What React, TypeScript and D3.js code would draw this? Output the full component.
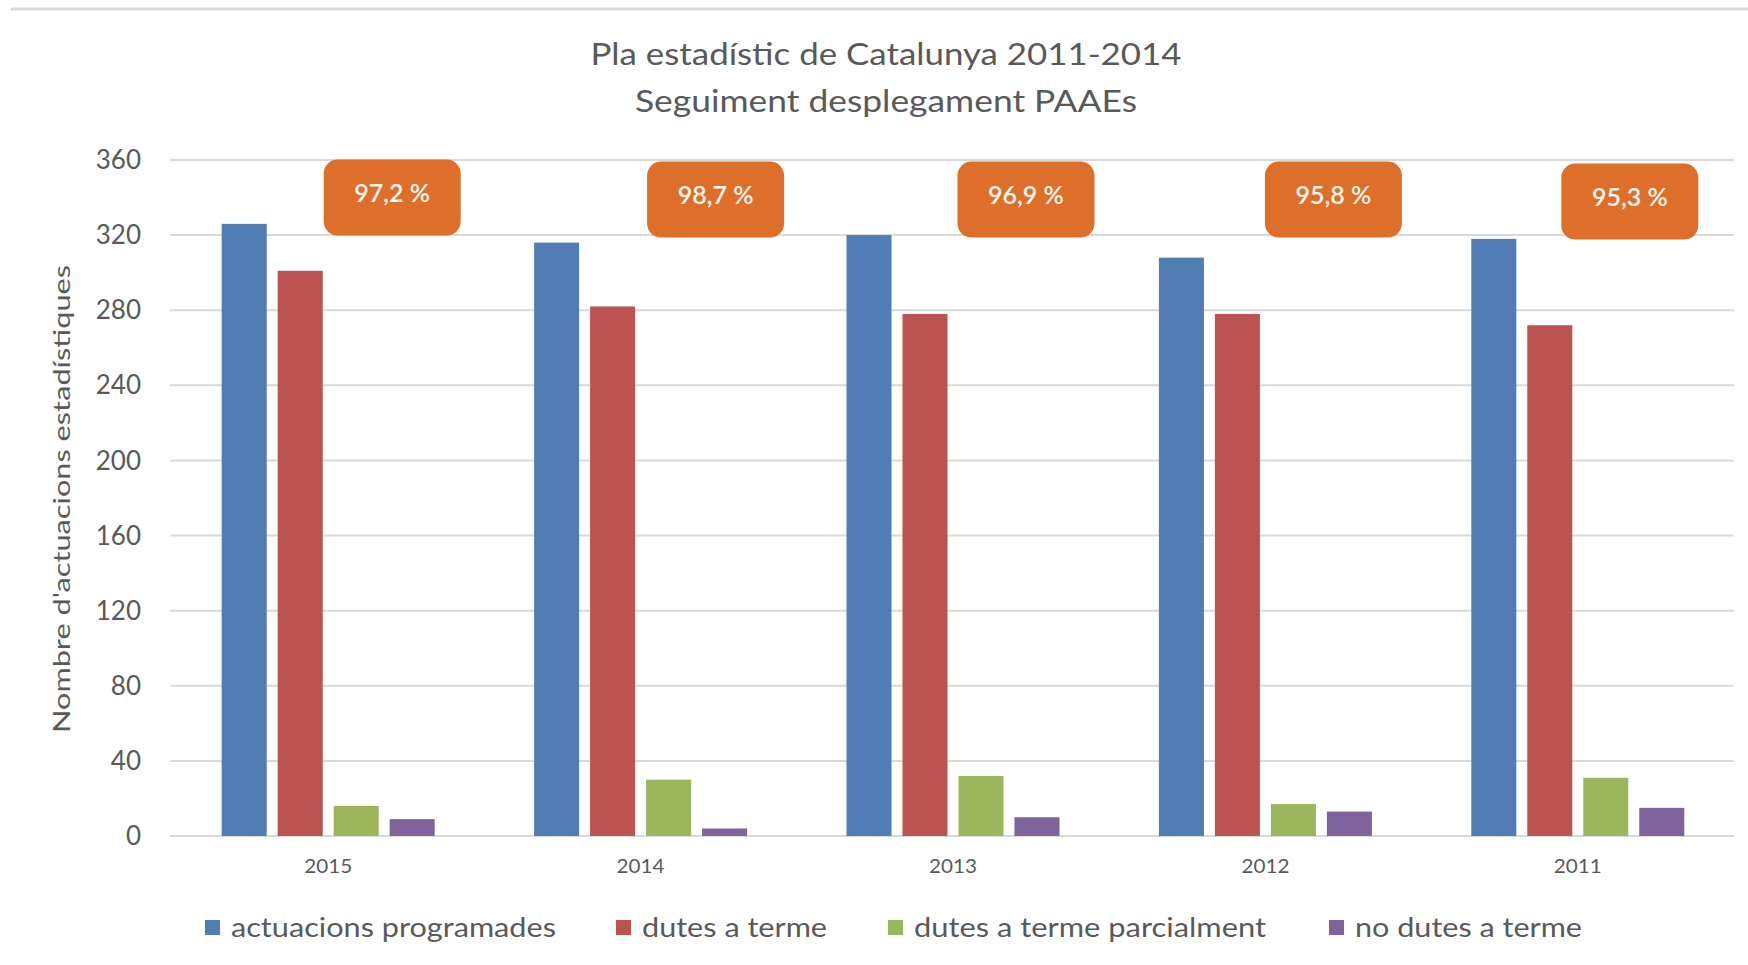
import * as d3 from 'd3'

const years = ['2015', '2014', '2013', '2012', '2011']
const seriesNames = [
  'actuacions programades',
  'dutes a terme',
  'dutes a terme parcialment',
  'no dutes a terme',
]
const programades = [326, 316, 320, 308, 318]
const dutes = [301, 282, 278, 278, 272]
const parcialment = [16, 30, 32, 17, 31]
const noDutes = [9, 4, 10, 13, 15]
const percentLabels = ['97,2 %', '98,7 %', '96,9 %', '95,8 %', '95,3 %']
const yTickValues = [0, 40, 80, 120, 160, 200, 240, 280, 320, 360]

const colors = ['#4f7db4', '#bb5350', '#9bb65a', '#7f649c']
const FONT = 'Lato, "Open Sans", sans-serif'

// décalage manuel des étiquettes (comme dans l'original)
const badgeShiftX = [64, 75, 73, 68, 52]
const badgeShiftY = [0, 2, 2, 2, 4]

export default function App() {
  const width = 1748
  const height = 965
  const margin = { top: 160, right: 14, bottom: 129, left: 172 }
  const series = [programades, dutes, parcialment, noDutes]

  const x0 = d3.scaleBand<string>()
    .domain(years)
    .range([margin.left, width - margin.right])
    .paddingInner(0)
    .paddingOuter(0)

  const groupWidth = 213
  const groupOffset = (x0.bandwidth() - groupWidth) / 2
  const x1 = d3.scaleBand<string>()
    .domain(seriesNames)
    .range([0, groupWidth])
    .paddingInner(0.196)
    .paddingOuter(0)

  const y = d3.scaleLinear()
    .domain([0, 360])
    .range([height - margin.bottom, margin.top])

  const badgeW = 137
  const badgeH = 76

  // légende
  const legendX = [205, 616, 888, 1329]
  const legendLen = [325, 185, 352, 227]

  return (
    <svg
      width={width}
      height={height}
      style={{ position: 'absolute', left: 0, top: 0, background: '#fff' }}
      fontFamily={FONT}
    >
      <line x1={11} x2={width} y1={9} y2={9} stroke="#d9d9d9" strokeWidth={3} />

      {/* titre */}
      <text x={886} y={65} textAnchor="middle" fontSize={31} fill="#595959"
        textLength={591} lengthAdjust="spacingAndGlyphs">
        Pla estadístic de Catalunya 2011-2014
      </text>
      <text x={886} y={112} textAnchor="middle" fontSize={31} fill="#595959"
        textLength={502} lengthAdjust="spacingAndGlyphs">
        Seguiment desplegament PAAEs
      </text>

      {/* grille */}
      {yTickValues.map(t => (
        <g key={t}>
          <line x1={margin.left - 2} x2={width - margin.right} y1={y(t)} y2={y(t)}
            stroke="#d9d9d9" strokeWidth={2} />
          <text x={141} y={y(t)} dy="0.35em" textAnchor="end" fontSize={26} fill="#595959">
            {t}
          </text>
        </g>
      ))}

      <text transform={`translate(70,499) rotate(-90)`} textAnchor="middle" fontSize={24}
        fill="#595959" textLength={468} lengthAdjust="spacingAndGlyphs">
        Nombre d'actuacions estadístiques
      </text>

      {/* barres */}
      {years.map((yr, i) => (
        <g key={yr} transform={`translate(${x0(yr)! + groupOffset},0)`}>
          {series.map((vals, s) => (
            <rect key={s}
              x={x1(seriesNames[s])}
              y={y(vals[i])}
              width={x1.bandwidth()}
              height={y(0) - y(vals[i])}
              fill={colors[s]} />
          ))}
        </g>
      ))}

      {/* années */}
      {years.map(yr => (
        <text key={yr} x={x0(yr)! + x0.bandwidth() / 2} y={873} textAnchor="middle"
          fontSize={20} fill="#595959" textLength={48} lengthAdjust="spacingAndGlyphs">
          {yr}
        </text>
      ))}

      {/* pourcentages */}
      {years.map((yr, i) => {
        const cx = x0(yr)! + x0.bandwidth() / 2 + badgeShiftX[i]
        const cy = y(340) + badgeShiftY[i]
        return (
          <g key={yr}>
            <rect x={cx - badgeW / 2} y={cy - badgeH / 2} width={badgeW} height={badgeH}
              rx={14} fill="#de6f2b" />
            <text x={cx} y={cy - 4} dy="0.35em" textAnchor="middle" fontSize={25} fontWeight={600}
              fill="#fdf6f0">
              {percentLabels[i]}
            </text>
          </g>
        )
      })}

      {/* légende */}
      {seriesNames.map((name, s) => (
        <g key={name}>
          <rect x={legendX[s]} y={920} width={15} height={15} fill={colors[s]} />
          <text x={legendX[s] + 26} y={937} fontSize={26} fill="#595959"
            textLength={legendLen[s]} lengthAdjust="spacingAndGlyphs">
            {name}
          </text>
        </g>
      ))}
    </svg>
  )
}
